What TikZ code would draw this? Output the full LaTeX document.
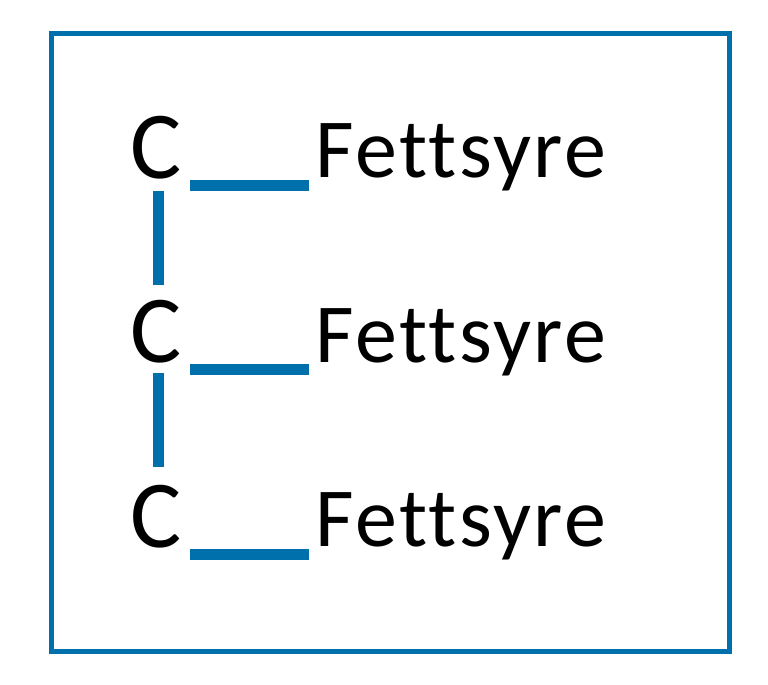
\documentclass[tikz,border=0pt]{standalone}
\usepackage{fontspec}
\setmainfont{Carlito}[Ligatures=NoCommon]
\newfontfamily\acidfont{Carlito}[Ligatures=NoCommon, LetterSpace=3]
\definecolor{bondblue}{RGB}{0,112,172}
\tikzset{
    atom/.style={inner sep=0pt, anchor=base west, font=\fontsize{48}{48}\selectfont},
    acid/.style={inner sep=0pt, anchor=base west, font=\acidfont\fontsize{42}{42}\selectfont},
    bond/.style={line width=5.5pt, color=bondblue},
}
\begin{document}
\begin{tikzpicture}[x=0.5pt, y=-0.5pt]
        \useasboundingbox (0,0) rectangle (768,685);
        \draw[line width=2.5pt, color=bondblue] (51,33) rectangle (729,651);
        \node[atom] (c1) at (130,178) {C};
        \node[atom] (c2) at (130,362) {C};
        \node[atom] (c3) at (130,547) {C};
        \node[acid] (f1) at (315,177) {Fettsyre};
        \node[acid] (f2) at (315,362) {Fettsyre};
        \node[acid] (f3) at (315,546) {Fettsyre};
        \draw[bond] ([xshift=4pt,yshift=-3.5pt]c1.base east) -- ([xshift=-3pt,yshift=-4pt]f1.base west);
        \draw[bond] ([xshift=4pt,yshift=-3.5pt]c2.base east) -- ([xshift=-3pt,yshift=-3.5pt]f2.base west);
        \draw[bond] ([xshift=4pt,yshift=-3.5pt]c3.base east) -- ([xshift=-3pt,yshift=-4pt]f3.base west);
        \draw[bond] ([xshift=1.2pt,yshift=-6.5pt]c1.base) -- ([xshift=1.2pt,yshift=38.5pt]c2.base);
        \draw[bond] ([xshift=1.2pt,yshift=-5.5pt]c2.base) -- ([xshift=1.2pt,yshift=40pt]c3.base);
\end{tikzpicture}
\end{document}
